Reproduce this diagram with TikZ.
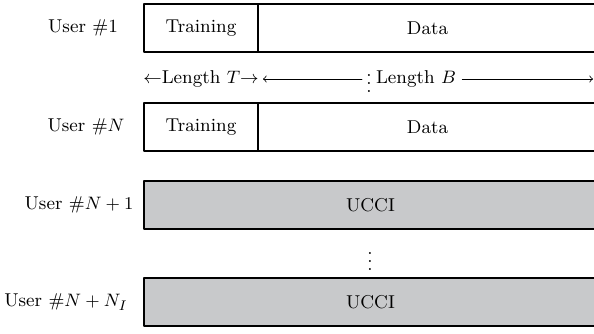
\documentclass[tikz,border=0pt]{standalone}
\usepackage{xcolor}
\definecolor{ucciGray}{RGB}{200,201,203}

\begin{document}
\begin{tikzpicture}[x=0.5pt,y=-0.5pt,line cap=round,line join=round,
  font=\fontsize{9.3}{11}\selectfont,
  slot/.style={draw,line width=0.8pt,rectangle,anchor=north west,minimum height=24pt,inner sep=0pt,outer sep=0pt},
  trainslot/.style={slot,minimum width=57pt},
  dataslot/.style={slot,minimum width=169.5pt},
  ucci/.style={slot,fill=ucciGray,minimum width=226.5pt}]
  \useasboundingbox (0,0) rectangle (594,333);
  \clip (0,0) rectangle (594,333);
  % frames of the users
  \node[trainslot] (train1) at (144,4) {Training};
  \node[dataslot] (data1) at (train1.north east) {Data};
  \node[trainslot] (trainN) at (144,103) {Training};
  \node[dataslot] (dataN) at (trainN.north east) {Data};
  \node[ucci] (ucci1) at (144,181) {UCCI};
  \node[ucci] (ucciI) at (144,278) {UCCI};
  % user labels
  \node (u1) at (83,28) {User \#1};
  \node (uN) at (86,127) {User \#$N$};
  \node (uN1) at (79,205) {User \#$N+1$};
  \node (uNI) at (66,302) {User \#$N+N_I$};
  % lengths
  \node[inner sep=0pt] (lenT) at (201,79) {$\leftarrow$Length $T$$\rightarrow$};
  \node[inner sep=0pt] (dotsA) at (369,77) {$\vdots$};
  \node[inner sep=0pt] (lenB) at (416,79) {Length $B$};
  \coordinate (bL) at (263,79);
  \coordinate (bR) at (593,79);
  \draw[line width=0.4pt,to-] (bL) -- ([xshift=-2pt]dotsA.west |- bL);
  \draw[line width=0.4pt,-to] ([xshift=3pt]lenB.east) -- (bR);
  \node[inner sep=0pt] (dotsB) at (370,255) {$\vdots$};
\end{tikzpicture}
\end{document}
